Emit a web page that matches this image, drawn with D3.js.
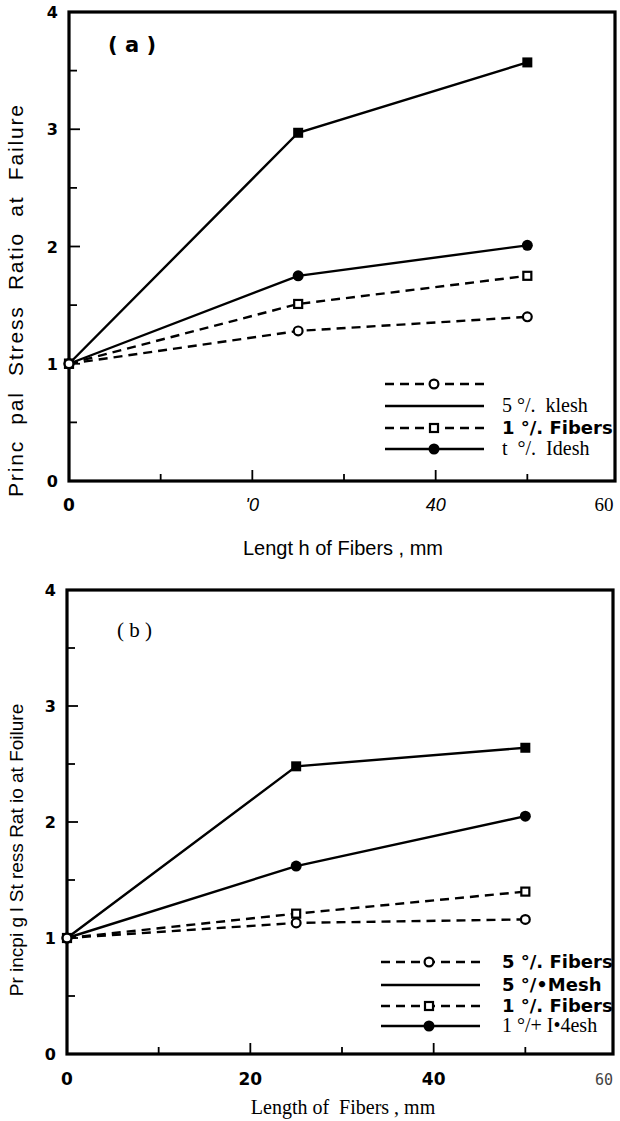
<!DOCTYPE html>
<html>
<head>
<meta charset="utf-8">
<script src="https://cdn.jsdelivr.net/npm/d3@7"></script>
<style>
  html, body { margin: 0; padding: 0; background: #fff; }
  svg { display: block; }
</style>
</head>
<body>
<svg id="chart" width="620" height="1121"></svg>
<script>
// ---------- data ----------
const xLengths = [0, 25, 50];

const aOpenCircle   = [1.00, 1.28, 1.40];
const aOpenSquare   = [1.00, 1.51, 1.75];
const aFilledCircle = [1.00, 1.75, 2.01];
const aFilledSquare = [1.00, 2.97, 3.57];

const bOpenCircle   = [1.00, 1.13, 1.16];
const bOpenSquare   = [1.00, 1.21, 1.40];
const bFilledCircle = [1.00, 1.62, 2.05];
const bFilledSquare = [1.00, 2.48, 2.64];

const yTickValues = [0, 1, 2, 3, 4];
const yTickLabels = ["0", "1", "2", "3", "4"];
const xTickValues = [0, 20, 40, 60];
const xTickLabelsA = ["0", "'0", "40", "60"];
const xTickLabelsB = ["0", "20", "40", "60"];

const legendLabelsA = ["", "5 °/.  klesh", "1 °/. Fibers", "t  °/.  Idesh"];
const legendLabelsB = ["5 °/. Fibers", "5 °/•Mesh", "1 °/. Fibers", "1 °/+ I•4esh"];

const panelTitleA = "( a )";
const panelTitleB = "( b )";
const yTitleA = "Princ  pal  Stress  Ratio  at  Failure";
const yTitleB = "Pr incpi g l St ress Rat io at Foilure";
const xTitleA = "Lengt h of Fibers , mm";
const xTitleB = "Length of  Fibers , mm";

// ---------- drawing ----------
const svg = d3.select("#chart");
const boldSans = "'DejaVu Sans', sans-serif";
const serif = "'Liberation Serif', 'DejaVu Serif', serif";
const sans = "'Liberation Sans', Arial, sans-serif";

function drawPanel(cfg) {
  const g = svg.append("g");
  const x = d3.scaleLinear().domain([0, 60]).range([cfg.left, cfg.right + 4]);
  const y = d3.scaleLinear().domain([0, 4]).range([cfg.bottom, cfg.top]);

  // frame
  g.append("rect")
    .attr("x", cfg.left).attr("y", cfg.top)
    .attr("width", cfg.right - cfg.left).attr("height", cfg.bottom - cfg.top)
    .attr("fill", "none").attr("stroke", "#000").attr("stroke-width", 3.2);

  // y ticks (inside, from left axis)
  const yt = d3.range(0.5, 4, 0.5);
  g.selectAll(".ytick").data(yt).enter().append("line")
    .attr("x1", cfg.left).attr("x2", d => cfg.left + (Number.isInteger(d) ? 11 : 8))
    .attr("y1", d => y(d)).attr("y2", d => y(d))
    .attr("stroke", "#000").attr("stroke-width", 1.8);

  // x ticks (inside, from bottom axis)
  const xt = [10, 20, 30, 40, 50];
  g.selectAll(".xtick").data(xt).enter().append("line")
    .attr("x1", d => x(d)).attr("x2", d => x(d))
    .attr("y1", cfg.bottom).attr("y2", d => cfg.bottom - (d % 20 === 0 ? 11 : 7))
    .attr("stroke", "#000").attr("stroke-width", 1.8);

  // y tick labels
  g.selectAll(".ylab").data(yTickValues).enter().append("text")
    .attr("x", cfg.left - 11).attr("y", d => y(d) + 6)
    .attr("text-anchor", "end")
    .style("font-family", boldSans).style("font-weight", "bold").style("font-size", "16px")
    .text((d, i) => yTickLabels[i]);

  // x tick labels
  g.selectAll(".xlab").data(xTickValues).enter().append("text")
    .attr("x", (d, i) => i === 3 ? cfg.x60 : x(d))
    .attr("y", cfg.bottom + cfg.xlabDy)
    .attr("text-anchor", "middle")
    .each(function(d, i) {
      const s = cfg.xStyles[i];
      d3.select(this).style("font-family", s.f).style("font-weight", s.w)
        .style("font-style", s.st || "normal").style("font-size", s.s)
        .style("fill", s.c || "#000");
    })
    .text((d, i) => cfg.xLabels[i]);

  // titles
  const yt_ = g.append("text")
    .attr("transform", `translate(${cfg.yTitleX},${cfg.yTitleY}) rotate(-90)`)
    .attr("text-anchor", "middle")
    .attr("xml:space", "preserve")
    .style("font-family", sans).style("font-size", cfg.yTitleSize)
    .text(cfg.yTitle);
  if (cfg.yTitleLen) yt_.attr("textLength", cfg.yTitleLen).attr("lengthAdjust", "spacing");
  g.append("text")
    .attr("x", cfg.xTitleX).attr("y", cfg.xTitleY)
    .attr("text-anchor", "middle")
    .attr("xml:space", "preserve")
    .style("font-family", cfg.xTitleFont).style("font-size", "20px")
    .text(cfg.xTitle);
  g.append("text")
    .attr("x", cfg.ptX).attr("y", cfg.ptY)
    .style("font-family", cfg.ptFont).style("font-weight", cfg.ptWeight)
    .style("font-size", cfg.ptSize)
    .attr("xml:space", "preserve")
    .text(cfg.panelTitle);

  const line = d3.line().x((d, i) => x(xLengths[i])).y(d => y(d));

  cfg.series.forEach(s => {
    g.append("path").datum(s.values)
      .attr("d", line).attr("fill", "none").attr("stroke", "#000")
      .attr("stroke-width", 2.4)
      .attr("stroke-dasharray", s.dashed ? "9,6" : null);
    drawMarkers(g, s.values.map((v, i) => [x(xLengths[i]), y(v)]), s.marker);
  });

  // legend
  cfg.legend.forEach((L, i) => {
    const ly = cfg.legendY[i];
    g.append("line")
      .attr("x1", cfg.legX1).attr("x2", cfg.legX2).attr("y1", ly).attr("y2", ly)
      .attr("stroke", "#000").attr("stroke-width", 2.4)
      .attr("stroke-dasharray", L.dashed ? "9,6" : null);
    if (L.marker) drawMarkers(g, [[cfg.legMarkX, ly]], L.marker);
    const st = cfg.legendStyles[i];
    g.append("text")
      .attr("x", cfg.legTextX).attr("y", ly + 6)
      .attr("xml:space", "preserve")
      .style("font-family", st.f).style("font-weight", st.w).style("font-size", st.s)
      .style("letter-spacing", st.ls || "0px")
      .text(cfg.legendLabels[i]);
  });
}

function drawMarkers(g, pts, type) {
  pts.forEach(p => {
    if (type === "oc") {
      g.append("circle").attr("cx", p[0]).attr("cy", p[1]).attr("r", 4.4)
        .attr("fill", "#fff").attr("stroke", "#000").attr("stroke-width", 2.2);
    } else if (type === "fc") {
      g.append("circle").attr("cx", p[0]).attr("cy", p[1]).attr("r", 5.5)
        .attr("fill", "#000");
    } else if (type === "os") {
      g.append("rect").attr("x", p[0] - 4).attr("y", p[1] - 4)
        .attr("width", 8).attr("height", 8)
        .attr("fill", "#fff").attr("stroke", "#000").attr("stroke-width", 2.2);
    } else if (type === "fs") {
      g.append("rect").attr("x", p[0] - 5).attr("y", p[1] - 5)
        .attr("width", 10).attr("height", 10).attr("fill", "#000");
    }
  });
}

const legBold = { f: boldSans, w: "bold", s: "18px", ls: "0px" };
const legSerif = { f: serif, w: "normal", s: "20px" };

drawPanel({
  left: 69, right: 615, top: 12, bottom: 481,
  x60: 604, xlabDy: 30,
  xLabels: xTickLabelsA,
  xStyles: [
    { f: boldSans, w: "bold", s: "17px" },
    { f: sans, w: "normal", st: "italic", s: "18px" },
    { f: sans, w: "normal", st: "italic", s: "18px" },
    { f: serif, w: "normal", s: "19px" }
  ],
  yTitle: yTitleA, yTitleX: 23, yTitleY: 301, yTitleLen: 392, yTitleSize: "21px",
  xTitle: xTitleA, xTitleX: 343, xTitleY: 555, xTitleFont: sans,
  panelTitle: panelTitleA, ptX: 108, ptY: 52, ptFont: boldSans, ptWeight: "bold", ptSize: "21px",
  series: [
    { values: aFilledSquare, marker: "fs", dashed: false },
    { values: aFilledCircle, marker: "fc", dashed: false },
    { values: aOpenSquare, marker: "os", dashed: true },
    { values: aOpenCircle, marker: "oc", dashed: true }
  ],
  legend: [
    { marker: "oc", dashed: true },
    { marker: null, dashed: false },
    { marker: "os", dashed: true },
    { marker: "fc", dashed: false }
  ],
  legendLabels: legendLabelsA,
  legendStyles: [legSerif, legSerif, legBold, legSerif],
  legendY: [384, 406, 428, 449],
  legX1: 385, legX2: 484, legMarkX: 434, legTextX: 502
});

drawPanel({
  left: 67, right: 613, top: 590, bottom: 1054,
  x60: 604, xlabDy: 31,
  xLabels: xTickLabelsB,
  xStyles: [
    { f: boldSans, w: "bold", s: "17px" },
    { f: boldSans, w: "bold", s: "17px" },
    { f: boldSans, w: "bold", s: "17px" },
    { f: "'DejaVu Sans Mono', monospace", w: "normal", s: "15px", c: "#444" }
  ],
  yTitle: yTitleB, yTitleX: 23, yTitleY: 850, yTitleLen: null, yTitleSize: "19px",
  xTitle: xTitleB, xTitleX: 343, xTitleY: 1114, xTitleFont: serif,
  panelTitle: panelTitleB, ptX: 117, ptY: 637, ptFont: serif, ptWeight: "normal", ptSize: "21px",
  series: [
    { values: bFilledSquare, marker: "fs", dashed: false },
    { values: bFilledCircle, marker: "fc", dashed: false },
    { values: bOpenSquare, marker: "os", dashed: true },
    { values: bOpenCircle, marker: "oc", dashed: true }
  ],
  legend: [
    { marker: "oc", dashed: true },
    { marker: null, dashed: false },
    { marker: "os", dashed: true },
    { marker: "fc", dashed: false }
  ],
  legendLabels: legendLabelsB,
  legendStyles: [legBold, legBold, legBold, legSerif],
  legendY: [962, 985, 1006, 1026],
  legX1: 381, legX2: 480, legMarkX: 429, legTextX: 502
});
</script>
</body>
</html>
